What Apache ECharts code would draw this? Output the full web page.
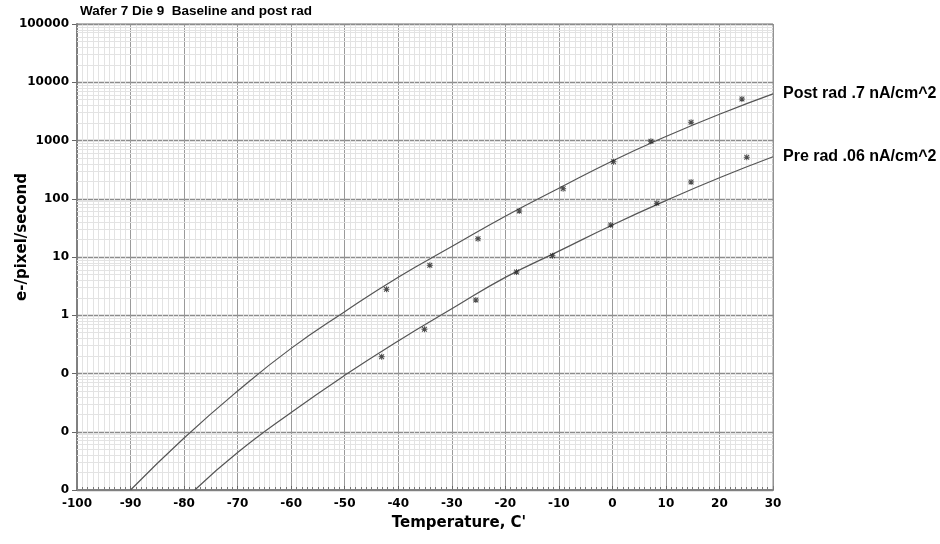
<!DOCTYPE html>
<html><head><meta charset="utf-8">
<script src="https://cdn.jsdelivr.net/npm/echarts@6/dist/echarts.min.js"></script>
<style>html,body{margin:0;padding:0;background:#fff}#c{width:940px;height:544px}</style>
</head><body><div id="c"></div>
<script>
const titleText = 'Wafer 7 Die 9  Baseline and post rad';
const xAxisTitle = "Temperature, C'";
const yAxisTitle = 'e-/pixel/second';
const postName = 'Post rad .7 nA/cm^2';
const preName = 'Pre rad .06 nA/cm^2';
const yTickValues = [0.001, 0.01, 0.1, 1, 10, 100, 1000, 10000, 100000];
const yTickLabels = ['0', '0', '0', '1', '10', '100', '1000', '10000', '100000'];
const minorMultipliers = [2, 3, 4, 5, 6, 7, 8, 9];
const postCurveT = [-90, -80, -70, -60, -50, -40, -30, -20, -10, 0, 10, 20, 30];
const postCurveV = [0.001, 0.0078, 0.050, 0.27, 1.15, 4.5, 15.1, 50, 151, 445, 1170, 2820, 6300];
const preCurveT = [-78, -70, -60, -50, -40, -30, -20, -10, 0, 10, 20, 30];
const preCurveV = [0.001, 0.0044, 0.0214, 0.093, 0.363, 1.29, 4.47, 12.6, 35.5, 93, 229, 525];
const postPtT = [-42.2, -34.1, -25.1, -17.4, -9.2, 0.2, 7.2, 14.7, 24.2];
const postPtV = [2.8, 7.2, 20.6, 61.6, 149, 432, 968, 2052, 5155];
const prePtT = [-43.1, -35.1, -25.5, -17.9, -11.2, -0.3, 8.3, 14.7, 25.1];
const prePtV = [0.194, 0.574, 1.83, 5.52, 10.5, 35.4, 83.6, 194, 515];

const L = v => Math.log10(v);
const pairs = (xs, ys) => xs.map((x, i) => [x, L(ys[i])]);
const minorLines = [];
yTickValues.slice(0, -1).forEach(d => minorMultipliers.forEach(m => minorLines.push({ yAxis: L(d * m) })));
const starPath = 'path://M4.2,0H5.8V10H4.2Z M0,4.2H10V5.8H0Z M1.6,0.4L9.6,8.4L8.4,9.6L0.4,1.6Z M8.4,0.4L9.6,1.6L1.6,9.6L0.4,8.4Z';
const axisFont = '"DejaVu Sans", Verdana, sans-serif';

const chart = echarts.init(document.getElementById('c'), null, { renderer: 'canvas' });
chart.setOption({
  animation: false,
  backgroundColor: '#fff',
  grid: { left: 77, right: 167, top: 24, bottom: 54, show: false },
  xAxis: {
    type: 'value', min: -100, max: 30, interval: 10,
    axisLine: { show: true, onZero: false, lineStyle: { color: '#777', width: 2 } },
    axisTick: { show: true, inside: true, length: 4, lineStyle: { color: '#666' } },
    minorTick: { show: true, splitNumber: 10, length: 3, lineStyle: { color: '#777' } },
    axisLabel: { margin: 8, color: '#000', fontFamily: axisFont, fontWeight: 'bold', fontSize: 12 },
    splitLine: { show: true, lineStyle: { color: '#9a9a9a', width: 1 } },
    minorSplitLine: { show: true, lineStyle: { color: '#e3e3e3', width: 1 } }
  },
  yAxis: {
    type: 'value', min: -3, max: 5, interval: 1,
    axisLine: { show: true, onZero: false, lineStyle: { color: '#777', width: 2 } },
    axisTick: { show: true, length: 5, lineStyle: { color: '#666' } },
    axisLabel: {
      margin: 8, color: '#000', fontFamily: axisFont, fontWeight: 'bold', fontSize: 12,
      formatter: v => {
        const i = yTickValues.findIndex(t => Math.abs(L(t) - v) < 1e-6);
        return i >= 0 ? yTickLabels[i] : '';
      }
    },
    splitLine: { show: true, lineStyle: { color: '#8c8c8c', width: 1.3 } }
  },
  graphic: [
    { type: 'text', left: 80, top: 4, style: { text: titleText, font: 'bold 13.5px "Liberation Sans", Arial, sans-serif', fill: '#000' } },
    { type: 'text', x: 22, y: 237, rotation: Math.PI / 2, style: { text: yAxisTitle, font: 'bold 15px ' + axisFont, fill: '#000', align: 'center', verticalAlign: 'middle' } },
    { type: 'text', x: 459, y: 523, style: { text: xAxisTitle, font: 'bold 15px ' + axisFont, fill: '#000', align: 'center', verticalAlign: 'middle' } },
    { type: 'rect', shape: { x: 77, y: 24, width: 696, height: 466 }, style: { fill: 'none', stroke: '#8a8a8a', lineWidth: 1 }, silent: true, z: 1 }
  ],
  series: [
    {
      type: 'line', data: [[-100, -3]], symbol: 'none', lineStyle: { opacity: 0 }, silent: true, z: 1,
      markLine: { z: 1, silent: true, symbol: 'none', label: { show: false }, lineStyle: { color: '#e3e3e3', width: 1, type: 'solid' }, data: minorLines, animation: false }
    },
    {
      name: postName, type: 'line', data: pairs(postCurveT, postCurveV), smooth: true, symbol: 'none', z: 6,
      lineStyle: { color: '#555', width: 1.2 },
      endLabel: { show: true, formatter: postName, distance: 10, color: '#000', fontFamily: '"Liberation Sans", Arial, sans-serif', fontWeight: 'bold', fontSize: 16 }
    },
    {
      name: preName, type: 'line', data: pairs(preCurveT, preCurveV), smooth: true, symbol: 'none', z: 6,
      lineStyle: { color: '#555', width: 1.2 },
      endLabel: { show: true, formatter: preName, distance: 10, color: '#000', fontFamily: '"Liberation Sans", Arial, sans-serif', fontWeight: 'bold', fontSize: 16 }
    },
    { type: 'scatter', data: pairs(postPtT, postPtV), symbol: starPath, symbolSize: 6, itemStyle: { color: '#222' }, z: 7 },
    { type: 'scatter', data: pairs(prePtT, prePtV), symbol: starPath, symbolSize: 6, itemStyle: { color: '#222' }, z: 7 }
  ]
});
</script></body></html>
